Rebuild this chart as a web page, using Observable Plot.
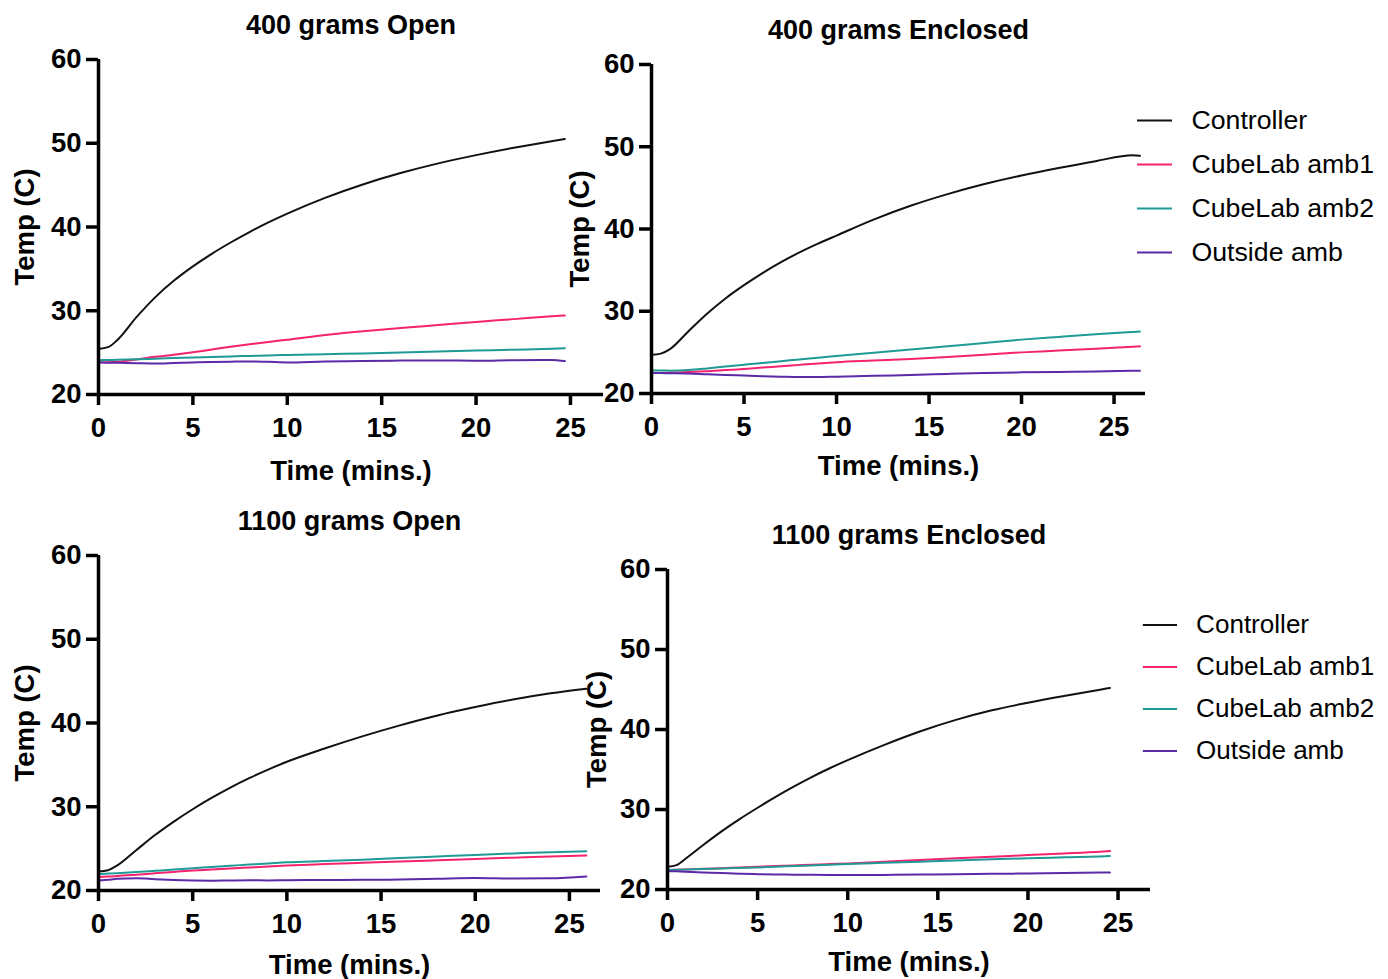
<!DOCTYPE html>
<html><head><meta charset="utf-8">
<script src="https://cdn.jsdelivr.net/npm/d3@7"></script>
<script src="https://cdn.jsdelivr.net/npm/@observablehq/plot@0.6"></script>
<style>
body{margin:0;background:#fff;}
#root{position:relative;width:1388px;height:979px;overflow:hidden;background:#fff;}
#root > div{position:absolute;}
</style></head><body><div id="root"></div>
<script>
// ---------- shared ----------
const series = ["Controller", "CubeLab amb1", "CubeLab amb2", "Outside amb"];
const colors = ["#111111", "#f5226e", "#1f9a96", "#5b2aa8"];
const xTicks = [0, 5, 10, 15, 20, 25];
const yTicks = [20, 30, 40, 50, 60];
const xLabel = "Time (mins.)";
const yLabel = "Temp (C)";

// ---------- 400 grams Open ----------
const open400Title = "400 grams Open";
const open400Time = [0, 0.5, 1, 2, 3, 4, 5, 6, 7, 8, 9, 10, 12, 14, 16, 18, 20, 22, 24, 24.7];
const open400Controller = [25.44, 25.65, 26.5, 29.2, 31.6, 33.6, 35.3, 36.8, 38.15, 39.4, 40.55, 41.6, 43.48, 45.08, 46.44, 47.6, 48.58, 49.46, 50.24, 50.5];
const open400Amb1 = [23.83, 23.85, 23.9, 24.18, 24.5, 24.75, 25.04, 25.37, 25.7, 26.0, 26.28, 26.53, 27.1, 27.55, 27.93, 28.3, 28.67, 29.0, 29.33, 29.44];
const open400Amb2 = [24.1, 24.12, 24.14, 24.2, 24.28, 24.36, 24.43, 24.49, 24.55, 24.61, 24.66, 24.72, 24.82, 24.91, 25.02, 25.13, 25.24, 25.35, 25.47, 25.52];
const open400Outside = [23.83, 23.8, 23.78, 23.74, 23.7, 23.76, 23.83, 23.88, 23.92, 23.95, 23.9, 23.83, 23.95, 24.0, 24.05, 24.07, 24.03, 24.1, 24.13, 23.99];

// ---------- 400 grams Enclosed ----------
const enc400Title = "400 grams Enclosed";
const enc400Time = [0, 0.5, 1, 2, 3, 4, 5, 6, 7, 8, 9, 10, 12, 14, 16, 18, 20, 22, 24, 26, 26.4];
const enc400Controller = [24.7, 24.85, 25.4, 27.58, 29.71, 31.56, 33.17, 34.64, 35.97, 37.16, 38.22, 39.2, 41.14, 42.82, 44.24, 45.46, 46.5, 47.42, 48.25, 48.97, 48.9];
const enc400Amb1 = [22.5, 22.5, 22.52, 22.6, 22.72, 22.85, 22.98, 23.15, 23.3, 23.48, 23.65, 23.8, 24.0, 24.2, 24.45, 24.72, 25.0, 25.22, 25.45, 25.68, 25.73];
const enc400Amb2 = [22.8, 22.79, 22.78, 22.85, 23.05, 23.28, 23.5, 23.72, 23.93, 24.14, 24.35, 24.55, 24.95, 25.35, 25.75, 26.15, 26.55, 26.88, 27.2, 27.48, 27.54];
const enc400Outside = [22.5, 22.48, 22.46, 22.42, 22.33, 22.25, 22.18, 22.1, 22.04, 22.0, 22.0, 22.05, 22.15, 22.25, 22.38, 22.5, 22.57, 22.62, 22.68, 22.76, 22.78];

// ---------- 1100 grams Open ----------
const open1100Title = "1100 grams Open";
const open1100Time = [0, 0.5, 1, 2, 3, 4, 5, 6, 7, 8, 9, 10, 12, 14, 16, 18, 20, 22, 24, 25.9];
const open1100Controller = [22.26, 22.42, 23.0, 24.81, 26.62, 28.23, 29.7, 31.05, 32.29, 33.41, 34.44, 35.37, 36.95, 38.4, 39.72, 40.9, 41.9, 42.8, 43.55, 44.1];
const open1100Amb1 = [21.6, 21.66, 21.72, 21.88, 22.05, 22.22, 22.38, 22.5, 22.63, 22.75, 22.87, 22.98, 23.15, 23.3, 23.45, 23.61, 23.77, 23.92, 24.07, 24.17];
const open1100Amb2 = [21.98, 22.02, 22.07, 22.2, 22.35, 22.5, 22.66, 22.8, 22.95, 23.1, 23.23, 23.37, 23.52, 23.68, 23.87, 24.06, 24.25, 24.42, 24.58, 24.68];
const open1100Outside = [21.19, 21.28, 21.39, 21.45, 21.35, 21.25, 21.19, 21.17, 21.2, 21.22, 21.2, 21.23, 21.25, 21.27, 21.3, 21.4, 21.5, 21.42, 21.45, 21.67];

// ---------- 1100 grams Enclosed ----------
const enc1100Title = "1100 grams Enclosed";
const enc1100Time = [0, 0.5, 1, 2, 3, 4, 5, 6, 7, 8, 9, 10, 12, 14, 16, 18, 20, 22, 24, 24.55];
const enc1100Controller = [22.85, 23.05, 23.85, 25.6, 27.27, 28.8, 30.22, 31.58, 32.86, 34.06, 35.16, 36.17, 38.05, 39.75, 41.2, 42.4, 43.35, 44.2, 44.98, 45.2];
const enc1100Amb1 = [22.43, 22.47, 22.5, 22.58, 22.67, 22.76, 22.85, 22.93, 23.01, 23.1, 23.18, 23.26, 23.47, 23.69, 23.9, 24.1, 24.3, 24.5, 24.72, 24.8];
const enc1100Amb2 = [22.43, 22.46, 22.49, 22.56, 22.63, 22.7, 22.76, 22.85, 22.93, 23.01, 23.1, 23.18, 23.33, 23.48, 23.63, 23.77, 23.9, 24.02, 24.14, 24.18];
const enc1100Outside = [22.3, 22.27, 22.23, 22.14, 22.05, 21.98, 21.92, 21.88, 21.85, 21.83, 21.81, 21.8, 21.82, 21.86, 21.9, 21.96, 22.0, 22.05, 22.11, 22.13];

// ---------- drawing ----------
const root = document.getElementById("root");
const FONT = "'Liberation Sans', Arial, Helvetica, sans-serif";
const AXW = 3.5;

function place(node, left, top) {
  const d = document.createElement("div");
  d.style.left = left + "px";
  d.style.top = top + "px";
  d.appendChild(node);
  root.appendChild(d);
}

function panel(cfg) {
  const data = series.flatMap((s, i) => cfg.time.map((t, j) => ({t, v: cfg.values[i][j], s})));
  const svg = Plot.plot({
    width: cfg.width, height: cfg.height,
    marginLeft: cfg.mL, marginRight: cfg.mR, marginTop: cfg.mT, marginBottom: cfg.mB,
    style: {fontFamily: FONT, fontSize: "27.5px", fontWeight: "bold", color: "#000", background: "transparent", overflow: "visible"},
    x: {domain: [0, cfg.xMax], label: null},
    y: {domain: [20, 60], label: null},
    color: {domain: series, range: colors},
    marks: [
      Plot.line(data, {x: "t", y: "v", z: "s", stroke: "s", strokeWidth: 2, curve: "monotone-x"}),
      Plot.ruleY([20], {strokeWidth: AXW, stroke: "#000"}),
      Plot.ruleX([0], {strokeWidth: AXW, stroke: "#000"}),
      Plot.axisX({ticks: xTicks, tickSize: 11, tickPadding: 12, strokeWidth: AXW, label: null, tickFormat: d => d}),
      Plot.axisY({ticks: yTicks, tickSize: 12, tickPadding: 5, strokeWidth: AXW, label: null, tickFormat: d => d}),
      Plot.text([cfg.title], {frameAnchor: "top", dy: -34, lineAnchor: "middle", textAnchor: "middle", fontSize: 27, text: d => d}),
      Plot.text([xLabel], {frameAnchor: "bottom", dy: cfg.xLabelDy, lineAnchor: "middle", textAnchor: "middle", text: d => d}),
      Plot.text([yLabel], {frameAnchor: "left", dx: cfg.yLabelDx, rotate: -90, lineAnchor: "middle", textAnchor: "middle", text: d => d})
    ]
  });
  place(svg, cfg.left, cfg.top);
}

function legend(left, top, r0, r1) {
  const svg = Plot.plot({
    width: 258, height: r1 + 30,
    margin: 0,
    style: {fontFamily: FONT, fontSize: "26.7px", color: "#000", background: "transparent", overflow: "visible"},
    x: {domain: [0, 258], range: [0, 258], axis: null},
    y: {type: "point", domain: series, range: [r0, r1], padding: 0, axis: null},
    color: {domain: series, range: colors},
    marks: [
      Plot.ruleY(series, {y: d => d, x1: 7, x2: 42, stroke: d => d, strokeWidth: 2}),
      Plot.text(series, {y: d => d, x: 61, text: d => d, textAnchor: "start", fill: "#000"})
    ]
  });
  place(svg, left, top);
}

panel({
  title: open400Title, time: open400Time,
  values: [open400Controller, open400Amb1, open400Amb2, open400Outside],
  left: 0, top: 0, width: 620, height: 490, mL: 98, mR: 17, mT: 59, mB: 96, xMax: 26.75,
  xLabelDy: 77, yLabelDx: -73
});
panel({
  title: enc400Title, time: enc400Time,
  values: [enc400Controller, enc400Amb1, enc400Amb2, enc400Outside],
  left: 560, top: 0, width: 828, height: 490, mL: 91, mR: 243, mT: 64, mB: 97, xMax: 26.7,
  xLabelDy: 73, yLabelDx: -71
});
panel({
  title: open1100Title, time: open1100Time,
  values: [open1100Controller, open1100Amb1, open1100Amb2, open1100Outside],
  left: 0, top: 490, width: 620, height: 489, mL: 98, mR: 20, mT: 65, mB: 89, xMax: 26.65,
  xLabelDy: 75, yLabelDx: -73
});
panel({
  title: enc1100Title, time: enc1100Time,
  values: [enc1100Controller, enc1100Amb1, enc1100Amb2, enc1100Outside],
  left: 560, top: 490, width: 828, height: 489, mL: 107, mR: 238, mT: 79, mB: 90, xMax: 26.8,
  xLabelDy: 73, yLabelDx: -70
});
legend(1130, 100, 20, 152);
legend(1136, 604, 20, 150);
</script></body></html>
